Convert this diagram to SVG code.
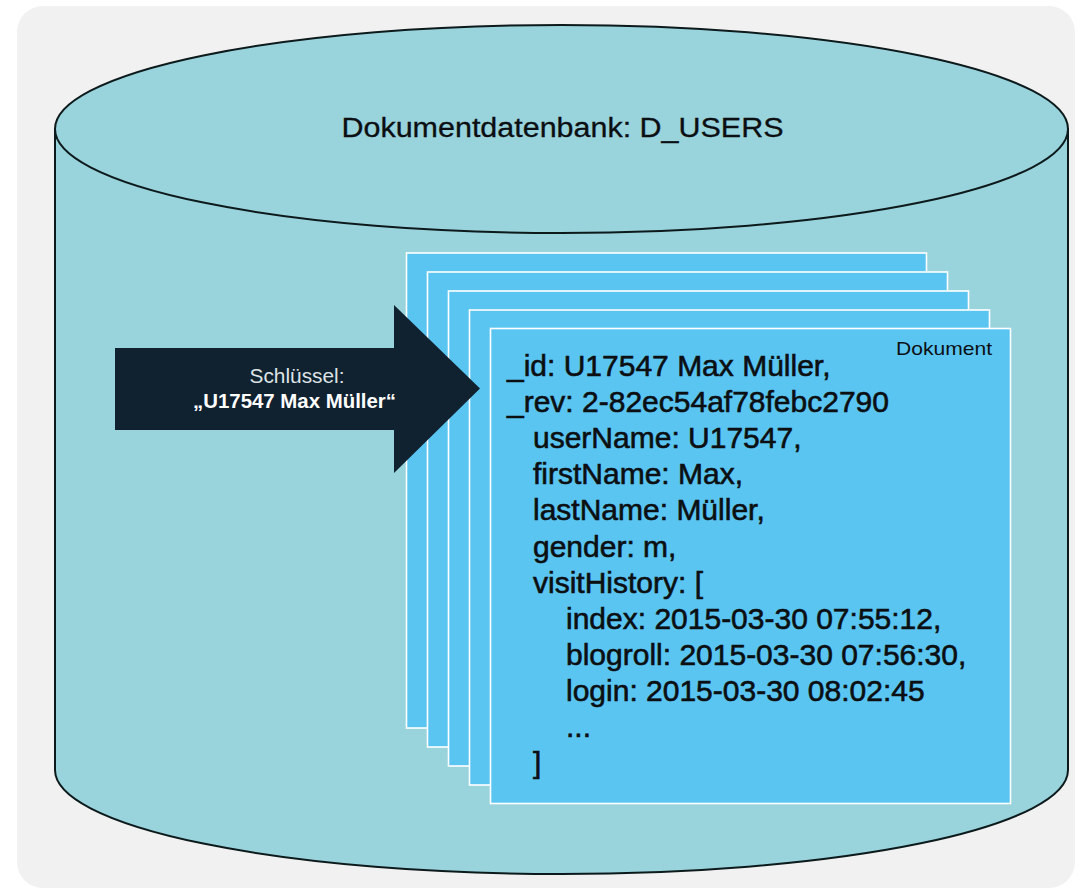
<svg xmlns="http://www.w3.org/2000/svg" width="1084" height="890" viewBox="0 0 1084 890">
<style>
.cyl{fill:#99d3dc;stroke:#0d1a1c;stroke-width:2}
.doc{fill:#5bc5f2;stroke:#ffffff;stroke-width:1.6}
.t{font-family:"Liberation Sans",Arial,sans-serif;fill:#0b0f12}
.code{font-size:30px;stroke:#0b0f12;stroke-width:0.6}
.arr{font-family:"Liberation Sans",Arial,sans-serif;text-anchor:middle}
</style>
<rect x="0" y="0" width="1084" height="890" fill="#ffffff"/>
<rect x="17" y="6" width="1058" height="882" rx="26" fill="#f1f1f1"/>
<g id="database">
  <path class="cyl" d="M55,129 L55,770 A506.5,104 0 0 0 1068,770 L1068,129 Z"/>
  <ellipse class="cyl" cx="561.5" cy="129" rx="506.5" ry="104"/>
  <text class="t" x="562.5" y="137.3" font-size="27" text-anchor="middle" stroke="#0b0f12" stroke-width="0.3" textLength="442" lengthAdjust="spacingAndGlyphs">Dokumentdatenbank: D_USERS</text>
</g>
<g id="documents">
  <rect class="doc" x="406.5" y="253" width="520" height="475"/>
  <rect class="doc" x="427.5" y="272" width="520" height="475"/>
  <rect class="doc" x="448.5" y="291" width="520" height="475"/>
  <rect class="doc" x="469.5" y="310" width="520" height="475"/>
  <rect class="doc" x="490.5" y="328.5" width="520" height="475"/>
  <text class="t" x="896" y="355" font-size="19" textLength="96" lengthAdjust="spacingAndGlyphs">Dokument</text>
  <g class="t code">
    <text x="507" y="376">_id: U17547 Max Müller,</text>
    <text x="507" y="412">_rev: 2-82ec54af78febc2790</text>
    <text x="533" y="448">userName: U17547,</text>
    <text x="533" y="484">firstName: Max,</text>
    <text x="533" y="520">lastName: Müller,</text>
    <text x="533" y="557">gender: m,</text>
    <text x="533" y="593">visitHistory: [</text>
    <text x="566" y="629">index: 2015-03-30 07:55:12,</text>
    <text x="566" y="665">blogroll: 2015-03-30 07:56:30,</text>
    <text x="566" y="701">login: 2015-03-30 08:02:45</text>
    <text x="566" y="737">...</text>
    <text x="533" y="773">]</text>
  </g>
</g>
<g id="connectors">
  <g id="key-arrow">
    <polygon points="115,348 394,348 394,305 480,388.5 394,473 394,430 115,430" fill="#10212f"/>
    <text class="arr" x="297" y="382.7" font-size="20" fill="#dde3e6" textLength="95" lengthAdjust="spacingAndGlyphs">Schlüssel:</text>
    <text class="arr" x="294.5" y="408" font-size="20" font-weight="bold" fill="#ffffff" textLength="203" lengthAdjust="spacingAndGlyphs">„U17547 Max Müller“</text>
  </g>
</g>
</svg>
